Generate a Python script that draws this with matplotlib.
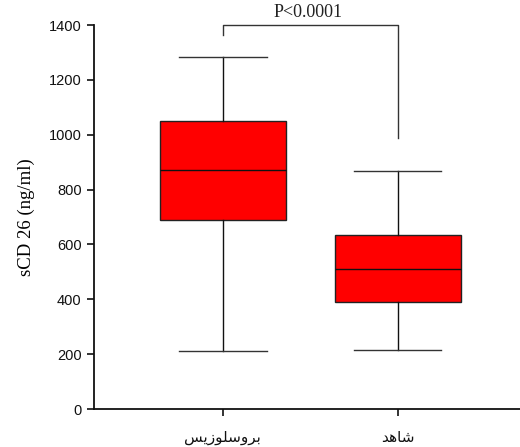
import matplotlib
matplotlib.use("Agg")
import matplotlib.pyplot as plt

# group labels, pre-shaped (presentation forms, visual order)
groups = ["\uFEB2\uFEF3\uFEAF\uFEEE\uFEE0\uFEB3\uFEED\uFEAE\uFE91",   # بروسلوزیس
          "\uFEAA\uFEEB\uFE8E\uFEB7"]                                 # شاهد
whislo = [211, 215]
q1 = [689, 390]
med = [873, 512]
q3 = [1050, 634]
whishi = [1283, 868]
p_text = "P<0.0001"
bracket_y = 1400
bracket_legs = [1365, 988]

stats = []
for i in range(len(groups)):
    stats.append(dict(whislo=whislo[i], q1=q1[i], med=med[i], q3=q3[i],
                      whishi=whishi[i], fliers=[]))

fig = plt.figure(figsize=(5.2, 4.47), dpi=100)
ax = fig.add_axes([0.181, 0.085, 0.819, 0.859])

ax.bxp(stats, positions=[1, 2], widths=0.72, patch_artist=True,
       showfliers=False,
       boxprops=dict(facecolor="#ff0000", edgecolor="#222222", linewidth=1.0),
       medianprops=dict(color="#111111", linewidth=1.0),
       whiskerprops=dict(color="#111111", linewidth=1.0),
       capprops=dict(color="#333333", linewidth=1.0),
       capwidths=0.5)

# significance bracket
ax.plot([1, 1, 2, 2], [bracket_legs[0], bracket_y, bracket_y, bracket_legs[1]],
        color="#333333", lw=1.0, clip_on=False)
ax.text(1.49, bracket_y + 16, p_text, ha="center", va="bottom",
        fontsize=13, family="Liberation Serif", color="#222222")

ax.set_xlim(0.263, 2.70)
ax.set_ylim(0, 1400)
ax.set_yticks(range(0, 1401, 200))
ax.set_xticks([1, 2])
ax.set_xticklabels(groups, fontsize=11, family="DejaVu Sans")
for lab in ax.get_yticklabels():
    lab.set_family("Liberation Sans")
    lab.set_fontsize(10.5)
ax.set_ylabel("sCD 26 (ng/ml)", family="Liberation Serif", fontsize=13.5,
              labelpad=10)

for s in ["top", "right"]:
    ax.spines[s].set_visible(False)
for s in ["left", "bottom"]:
    ax.spines[s].set_linewidth(1.3)
    ax.spines[s].set_color("#111111")
ax.tick_params(axis="both", direction="out", length=5, width=1.2,
               colors="#111111", pad=4)
ax.tick_params(axis="x", pad=10)

fig.savefig("out.png", dpi=100)
